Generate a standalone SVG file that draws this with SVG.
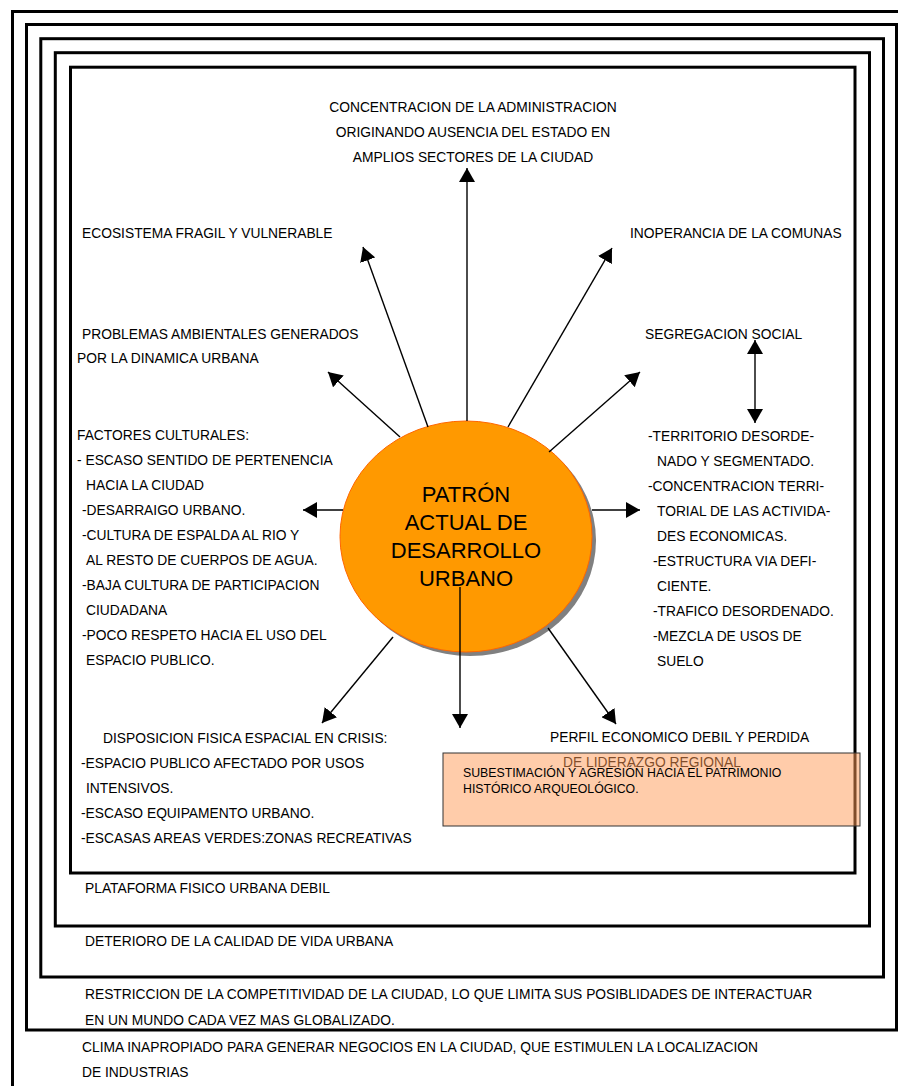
<svg xmlns="http://www.w3.org/2000/svg" width="898" height="1086" viewBox="0 0 898 1086">
<style>
.t{font-family:"Liberation Sans",Arial,sans-serif;font-size:13.8px;fill:#000}
.tc{text-anchor:middle}
.frame{fill:none;stroke:#000;stroke-width:3}
.conn{stroke:#000;stroke-width:1.4;fill:none}
.big{font-family:"Liberation Sans",Arial,sans-serif;font-size:22px;fill:#000;text-anchor:middle}
.box{font-family:"Liberation Sans",Arial,sans-serif;font-size:12.3px;fill:#000}
</style>
<defs>
<marker id="ah" viewBox="0 0 14 16" refX="14" refY="8" markerWidth="14" markerHeight="16" orient="auto-start-reverse" markerUnits="userSpaceOnUse">
<path d="M0,0 L14,8 L0,16 z" fill="#000"/>
</marker>
</defs>
<rect width="898" height="1086" fill="#fff"/>
<g id="frames">
<rect class="frame" x="12.5" y="11.5" width="900" height="1100"/>
<rect class="frame" x="26.5" y="24.5" width="870" height="1005.5"/>
<rect class="frame" x="40.8" y="38.7" width="842.7" height="938.3"/>
<rect class="frame" x="55.3" y="52.7" width="814.2" height="873.3"/>
<rect class="frame" x="70.5" y="67.2" width="784.5" height="805.8"/>
</g>
<g id="center">
<ellipse cx="470" cy="540.5" rx="126" ry="115.5" fill="#808080"/>
<ellipse cx="466" cy="536.5" rx="126" ry="115.5" fill="#FF9900" stroke="#FF6600" stroke-width="1"/>
<text class="big" x="466" y="502">PATRÓN</text>
<text class="big" x="466" y="530">ACTUAL DE</text>
<text class="big" x="466" y="558">DESARROLLO</text>
<text class="big" x="466" y="586">URBANO</text>
</g>
<g id="connectors">
<line class="conn" x1="467" y1="421" x2="467" y2="168" marker-end="url(#ah)"/>
<line class="conn" x1="428" y1="427" x2="363" y2="247" marker-end="url(#ah)"/>
<line class="conn" x1="400" y1="437" x2="328" y2="372" marker-end="url(#ah)"/>
<line class="conn" x1="508" y1="427" x2="612" y2="248" marker-end="url(#ah)"/>
<line class="conn" x1="549" y1="452" x2="640" y2="372" marker-end="url(#ah)"/>
<line class="conn" x1="755" y1="340" x2="755" y2="423" marker-start="url(#ah)" marker-end="url(#ah)"/>
<line class="conn" x1="592" y1="510" x2="640" y2="510" marker-end="url(#ah)"/>
<line class="conn" x1="343" y1="510" x2="303" y2="510" marker-end="url(#ah)"/>
<line class="conn" x1="393" y1="637" x2="322" y2="723" marker-end="url(#ah)"/>
<line class="conn" x1="460" y1="587" x2="460" y2="728" stroke-width="1.8" marker-end="url(#ah)"/>
<line class="conn" x1="548" y1="628" x2="616" y2="724" marker-end="url(#ah)"/>
</g>
<g id="n-top">
<text class="t tc" x="473" y="112">CONCENTRACION DE LA ADMINISTRACION</text>
<text class="t tc" x="473" y="137">ORIGINANDO AUSENCIA DEL ESTADO EN</text>
<text class="t tc" x="473" y="162">AMPLIOS SECTORES DE LA CIUDAD</text>
</g>
<g id="n-ecosistema"><text class="t" x="82" y="238">ECOSISTEMA FRAGIL Y VULNERABLE</text></g>
<g id="n-problemas">
<text class="t" x="82" y="339">PROBLEMAS AMBIENTALES GENERADOS</text>
<text class="t" x="77" y="363">POR LA DINAMICA URBANA</text>
</g>
<g id="n-inoperancia"><text class="t" x="630" y="238">INOPERANCIA DE LA COMUNAS</text></g>
<g id="n-segregacion"><text class="t" x="645" y="339">SEGREGACION SOCIAL</text></g>
<g id="n-territorio">
<text class="t" x="648" y="441">-TERRITORIO DESORDE-</text>
<text class="t" x="657" y="466">NADO Y SEGMENTADO.</text>
<text class="t" x="648" y="491">-CONCENTRACION TERRI-</text>
<text class="t" x="657" y="516">TORIAL DE LAS ACTIVIDA-</text>
<text class="t" x="657" y="541">DES ECONOMICAS.</text>
<text class="t" x="653" y="566">-ESTRUCTURA VIA DEFI-</text>
<text class="t" x="657" y="591">CIENTE.</text>
<text class="t" x="653" y="616">-TRAFICO DESORDENADO.</text>
<text class="t" x="653" y="641">-MEZCLA DE USOS DE</text>
<text class="t" x="657" y="666">SUELO</text>
</g>
<g id="n-culturales">
<text class="t" x="77" y="440">FACTORES CULTURALES:</text>
<text class="t" x="77" y="465">- ESCASO SENTIDO DE PERTENENCIA</text>
<text class="t" x="86" y="490">HACIA LA CIUDAD</text>
<text class="t" x="82" y="515">-DESARRAIGO URBANO.</text>
<text class="t" x="82" y="540">-CULTURA DE ESPALDA AL RIO Y</text>
<text class="t" x="86" y="565">AL RESTO DE CUERPOS DE AGUA.</text>
<text class="t" x="82" y="590">-BAJA CULTURA DE PARTICIPACION</text>
<text class="t" x="86" y="615">CIUDADANA</text>
<text class="t" x="82" y="640">-POCO RESPETO HACIA EL USO DEL</text>
<text class="t" x="86" y="665">ESPACIO PUBLICO.</text>
</g>
<g id="n-disposicion">
<text class="t" x="103" y="743">DISPOSICION FISICA ESPACIAL EN CRISIS:</text>
<text class="t" x="81" y="768">-ESPACIO PUBLICO AFECTADO POR USOS</text>
<text class="t" x="86" y="793">INTENSIVOS.</text>
<text class="t" x="81" y="818">-ESCASO EQUIPAMENTO URBANO.</text>
<text class="t" x="81" y="843">-ESCASAS AREAS VERDES:ZONAS RECREATIVAS</text>
</g>
<g id="n-perfil">
<text class="t" x="550" y="742">PERFIL ECONOMICO DEBIL Y PERDIDA</text>
<text class="t" x="563" y="767">DE LIDERAZGO REGIONAL</text>
</g>
<g id="n-patrimonio">
<rect x="443" y="753" width="417" height="73" fill="#FF9955" fill-opacity="0.5" stroke="#333" stroke-width="1"/>
<text class="box" x="463" y="777">SUBESTIMACIÓN Y AGRESIÓN HACIA EL PATRIMONIO</text>
<text class="box" x="463" y="793">HISTÓRICO ARQUEOLÓGICO.</text>
</g>
<g id="n-bottom">
<text class="t" x="85" y="893">PLATAFORMA FISICO URBANA DEBIL</text>
<text class="t" x="85" y="946">DETERIORO DE LA CALIDAD DE VIDA URBANA</text>
<text class="t" x="85" y="999">RESTRICCION DE LA COMPETITIVIDAD DE LA CIUDAD, LO QUE LIMITA SUS POSIBLIDADES DE INTERACTUAR</text>
<text class="t" x="85" y="1025">EN UN MUNDO CADA VEZ MAS GLOBALIZADO.</text>
<text class="t" x="82" y="1052">CLIMA INAPROPIADO PARA GENERAR NEGOCIOS EN LA CIUDAD, QUE ESTIMULEN LA LOCALIZACION</text>
<text class="t" x="82" y="1077">DE INDUSTRIAS</text>
</g>
</svg>
